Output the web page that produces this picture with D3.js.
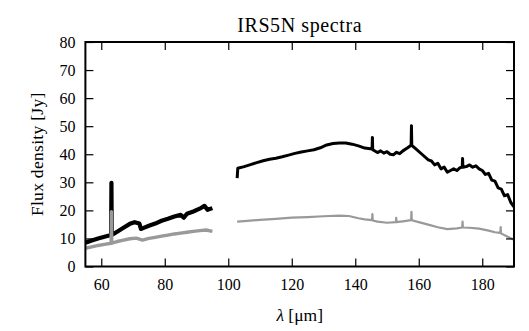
<!DOCTYPE html>
<html>
<head>
<meta charset="utf-8">
<script src="https://cdn.jsdelivr.net/npm/d3@7"></script>
<style>
  html, body { margin: 0; padding: 0; background: #fff; overflow: hidden; }
  svg { display: block; }
  svg text { font-family: "Liberation Serif", "Times New Roman", serif; fill: #000; }
</style>
</head>
<body>
<svg width="529" height="331"></svg>
<script>
// PACS blue band (55-95 um) and red band (102.8-190 um)
var blueLambda = [55, 57, 59, 61, 63.1, 63.2, 63.3, 65, 67, 69, 70.5, 72, 72.5, 73, 75, 77, 79, 81, 83, 85, 86, 87, 89, 91, 92.5, 93.5, 95];
var blueTotal  = [8.5, 9.3, 10.0, 10.6, 11.2, 29.8, 11.2, 12.4, 13.8, 15.2, 15.8, 15.3, 13.4, 13.6, 14.5, 15.3, 16.3, 17.0, 17.8, 18.4, 17.4, 18.8, 19.6, 20.6, 21.6, 20.2, 20.8];
var blueGrayLambda = [55, 57, 59, 61, 63.1, 63.2, 63.3, 65, 67, 69, 71, 73, 75, 77, 79, 81, 83, 85, 87, 89, 91, 93, 95];
var blueGray       = [6.5, 7.0, 7.5, 7.9, 8.3, 19.5, 8.3, 8.9, 9.4, 9.9, 10.1, 9.4, 10.0, 10.4, 10.8, 11.2, 11.6, 11.9, 12.2, 12.5, 12.8, 13.0, 12.5];

var redLambda = [102.8, 103, 105, 107, 109, 111, 113, 115, 117, 119, 121, 123, 125, 127, 129, 131, 133, 135, 137, 139, 141, 143,
                 145.3, 145.4, 145.5, 147, 148, 149, 150, 151, 152, 153, 154, 155, 156.5, 157.6, 157.7, 157.8, 159, 161, 163, 164, 165,
                 166, 167, 168, 169, 170, 171, 172, 173, 173.7, 173.8, 173.9, 175, 176, 177, 178, 179, 180, 181, 182, 183, 184,
                 185, 186, 187, 188, 189, 190];
var redTotal  = [31.5, 35.0, 35.6, 36.3, 37.0, 37.7, 38.2, 38.6, 39.1, 39.7, 40.3, 40.8, 41.2, 41.6, 42.3, 43.3, 43.8, 44.0, 44.0, 43.6, 43.0, 42.2,
                 41.9, 46.0, 41.6, 40.6, 41.2, 40.4, 40.9, 40.0, 39.8, 40.7, 40.2, 41.2, 42.3, 43.2, 50.2, 43.2, 42.0, 40.0, 38.0, 37.6, 36.2,
                 36.8, 34.8, 35.4, 33.6, 34.2, 34.8, 34.2, 35.2, 35.4, 38.5, 35.4, 35.6, 36.2, 35.4, 35.9, 34.8, 34.2, 32.8, 33.2, 30.8, 30.4,
                 28.0, 27.6, 25.2, 25.6, 22.8, 21.3];
var redGrayLambda = [102.8, 105, 110, 115, 120, 125, 130, 135, 138, 141, 143, 145.3, 145.4, 145.5, 147, 150, 152.8, 152.9, 153, 155,
                     157.6, 157.7, 157.8, 160, 163, 166, 169, 172, 173.7, 173.8, 173.9, 176, 179, 182, 184, 185.7, 185.8, 185.9, 188, 190];
var redGray       = [16.0, 16.2, 16.6, 17.0, 17.4, 17.6, 17.9, 18.1, 18.0, 17.2, 16.8, 16.5, 18.7, 16.4, 16.0, 15.6, 15.8, 17.3, 15.8, 16.1,
                     16.5, 19.5, 16.5, 15.8, 14.9, 14.0, 13.3, 13.6, 13.9, 16.0, 13.9, 13.8, 13.5, 12.8, 12.2, 12.0, 14.0, 11.8, 10.6, 9.5];

var xTicks = [60, 80, 100, 120, 140, 160, 180];
var yTicks = [0, 10, 20, 30, 40, 50, 60, 70, 80];

var svg = d3.select("svg");
var margin = { top: 42, left: 85.4 };
var innerWidth = 428.6;
var innerHeight = 224.5;

var x = d3.scaleLinear().domain([55, 190]).range([0, innerWidth]);
var y = d3.scaleLinear().domain([0, 80]).range([innerHeight, 0]);

var group = svg.append("g")
    .attr("transform", "translate(" + margin.left + "," + margin.top + ")");

group.append("clipPath").attr("id", "clip")
  .append("rect").attr("width", innerWidth).attr("height", innerHeight);

var line = d3.line().x(d => x(d[0])).y(d => y(d[1]));
function zip(a, b) { return a.map((v, i) => [v, b[i]]); }

var plot = group.append("g").attr("clip-path", "url(#clip)");
var series = [
  { pts: zip(blueLambda, blueTotal), color: "#000", w: 4.2 },
  { pts: zip(redLambda, redTotal), color: "#000", w: 3 },
  { pts: zip(blueGrayLambda, blueGray), color: "#999", w: 3.4 },
  { pts: zip(redGrayLambda, redGray), color: "#999", w: 2.2 }
];
plot.selectAll("path")
  .data(series)
  .enter()
  .append("path")
  .attr("d", d => line(d.pts))
  .attr("fill", "none")
  .attr("stroke", d => d.color)
  .attr("stroke-width", d => d.w)
  .attr("stroke-linejoin", "round");

// axes, ticks pointing inward on all four sides
function styleAxis(g) {
  g.select(".domain").remove();
  g.attr("font-family", null).attr("font-size", null);
  g.selectAll(".tick line").attr("stroke", "#000").attr("stroke-width", 1.2);
}
group.append("g")
  .attr("transform", "translate(0," + innerHeight + ")")
  .call(d3.axisBottom(x).tickValues(xTicks).tickSize(-8).tickPadding(0))
  .call(styleAxis)
  .selectAll("text")
    .attr("y", 23).attr("dy", 0).attr("font-size", 16);
group.append("g")
  .call(d3.axisTop(x).tickValues(xTicks).tickSize(-8))
  .call(styleAxis)
  .selectAll("text").remove();
group.append("g")
  .call(d3.axisLeft(y).tickValues(yTicks).tickSize(-8))
  .call(styleAxis)
  .selectAll("text")
    .attr("x", -10).attr("dy", "0.32em").attr("font-size", 16);
group.append("g")
  .attr("transform", "translate(" + innerWidth + ",0)")
  .call(d3.axisRight(y).tickValues(yTicks).tickSize(-8))
  .call(styleAxis)
  .selectAll("text").remove();

group.append("rect")
  .attr("width", innerWidth).attr("height", innerHeight)
  .attr("fill", "none").attr("stroke", "#000").attr("stroke-width", 2);

// title and axis labels
svg.append("text")
  .attr("x", margin.left + innerWidth / 2).attr("y", 31.5)
  .attr("text-anchor", "middle").attr("font-size", 20)
  .attr("letter-spacing", 0.6)
  .text("IRS5N spectra");

var xl = svg.append("text")
  .attr("x", margin.left + innerWidth / 2).attr("y", 321)
  .attr("text-anchor", "middle").attr("font-size", 17.5);
xl.append("tspan").attr("font-style", "italic").text("λ");
xl.append("tspan").text(" [μm]");

svg.append("text")
  .attr("transform", "translate(43.3," + (margin.top + innerHeight / 2) + ") rotate(-90)")
  .attr("text-anchor", "middle").attr("font-size", 17.5)
  .attr("letter-spacing", 0.3)
  .text("Flux density [Jy]");
</script>
</body>
</html>
